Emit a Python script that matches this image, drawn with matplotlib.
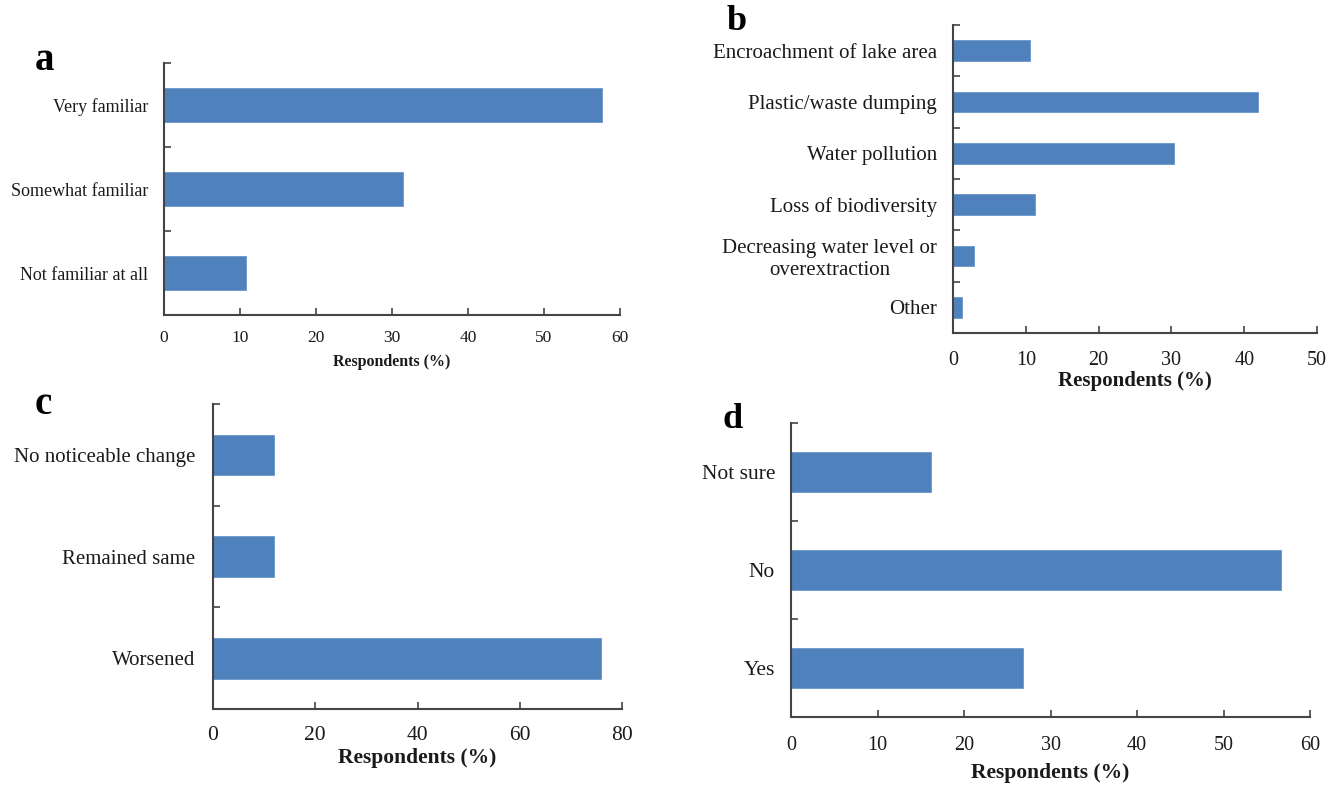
import matplotlib
matplotlib.use("Agg")
import matplotlib.pyplot as plt
import numpy as np

plt.rcParams['font.family'] = ['Liberation Serif', 'DejaVu Serif']

# ---- data (top-to-bottom order as shown) ----
a_cats = ["Very familiar", "Somewhat familiar", "Not familiar at all"]
a_vals = [57.6, 31.4, 10.8]

b_cats = ["Encroachment of lake area", "Plastic/waste dumping", "Water pollution",
          "Loss of biodiversity", "Decreasing water level or\noverextraction", "Other"]
b_vals = [10.6, 41.9, 30.4, 11.2, 2.9, 1.2]

c_cats = ["No noticeable change", "Remained same", "Worsened"]
c_vals = [12.0, 12.0, 75.9]

d_cats = ["Not sure", "No", "Yes"]
d_vals = [16.2, 56.6, 26.8]

a_ticks = [0, 10, 20, 30, 40, 50, 60]
b_ticks = [0, 10, 20, 30, 40, 50]
c_ticks = [0, 20, 40, 60, 80]
d_ticks = [0, 10, 20, 30, 40, 50, 60]

BAR = "#4F81BD"
AXC = "#444444"
TXT = "#1a1a1a"

W, H = 1340, 787
fig = plt.figure(figsize=(W / 100, H / 100), dpi=100)


def rect(l, r, t, b):
    return [l / W, 1 - b / H, (r - l) / W, (b - t) / H]


def panel(box, cats, vals, ticks, ysize, xsize, lsize, xlab_y, tpad, ypad):
    ax = fig.add_axes(box)
    n = len(cats)
    pos = np.arange(n)
    ax.barh(pos, vals, height=0.4, color=BAR, edgecolor="#6a96c9", linewidth=0.6, zorder=2)
    ax.set_ylim(n - 0.5, -0.5)
    ax.set_xlim(ticks[0], ticks[-1])
    ax.set_xticks(ticks)
    ax.set_yticks(pos)
    ax.set_yticklabels(cats, fontsize=ysize, color=TXT, multialignment="center")
    ax.set_yticks(np.arange(-0.5, n, 1.0), minor=True)
    ax.tick_params(axis="y", which="major", length=0, pad=ypad)
    ax.tick_params(axis="y", which="minor", direction="in", length=5, width=1.2, color=AXC)
    ax.tick_params(axis="x", which="major", direction="in", length=5, width=1.2,
                   color=AXC, labelsize=xsize, labelcolor=TXT, pad=tpad)
    for s in ["top", "right"]:
        ax.spines[s].set_visible(False)
    for s in ["left", "bottom"]:
        ax.spines[s].set_color(AXC)
        ax.spines[s].set_linewidth(1.5)
    ax.set_xlabel("Respondents (%)", fontsize=lsize, fontweight="bold", color=TXT)
    ax.xaxis.label.set_va("center")
    ax.xaxis.set_label_coords(0.5, xlab_y)
    return ax


panel(rect(164, 620, 63, 315), a_cats, a_vals, a_ticks, 13, 12.5, 11.5, (315 - 362) / 252, 11, 11.5)
panel(rect(953, 1317, 25, 333), b_cats, b_vals, b_ticks, 15, 14.5, 15, (333 - 381) / 308, 13, 11.5)
panel(rect(213, 622, 404, 709), c_cats, c_vals, c_ticks, 15, 15.5, 15.5, (709 - 758) / 305, 12, 13)
panel(rect(791, 1310, 423, 717), d_cats, d_vals, d_ticks, 15.5, 14.5, 15.5, (717 - 773) / 294, 14, 11.5)

for lab, x, y, fs in [("a", 45, 61, 28), ("b", 737, 22, 26), ("c", 43, 405, 28), ("d", 733, 419, 26)]:
    fig.text(x / W, 1 - y / H, lab, fontsize=fs, fontweight="bold", ha="center", va="center", color="#000000")

fig.savefig("out.png", dpi=100)
